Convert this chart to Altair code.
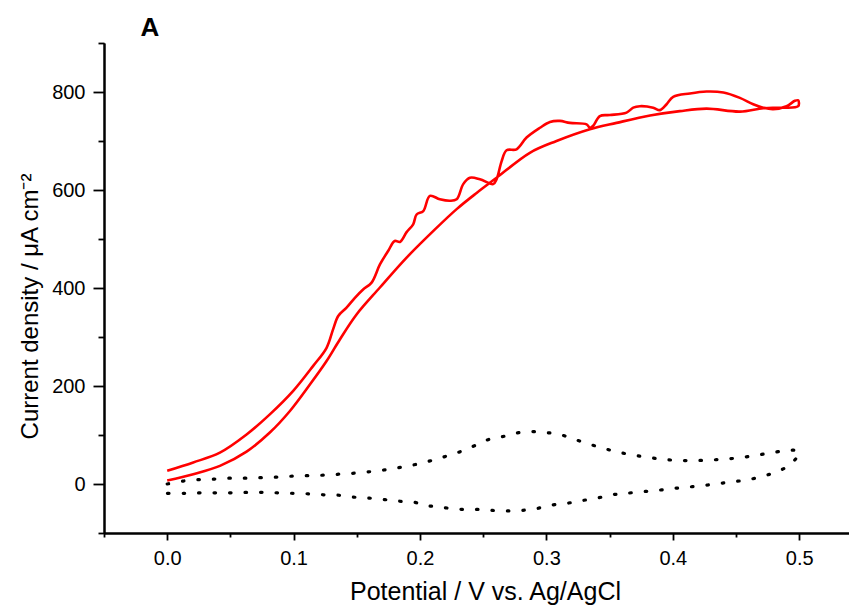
import altair as alt
import pandas as pd

# Red curve: smooth branch (0 -> 0.5 V) then noisy branch (0.5 -> 0 V)
fwd_x = [0.0, 0.0206, 0.0417, 0.0628, 0.0812, 0.0971, 0.1129, 0.1261, 0.1366, 0.1498,
         0.1683, 0.1894, 0.2104, 0.229, 0.2448, 0.2606, 0.2869, 0.308, 0.3344, 0.3555,
         0.382, 0.4056, 0.4267, 0.4531, 0.4715, 0.4847, 0.4992]
fwd_y = [7, 20, 37, 66, 105, 149, 203, 251, 295, 346, 401, 462, 516, 561, 594, 625, 676,
         700, 724, 737, 752, 761, 766, 760, 767, 768, 771]
rev_x = [0.4992, 0.4966, 0.490, 0.4794, 0.4715, 0.4636, 0.4531, 0.440, 0.4267, 0.4135,
         0.4003, 0.3951, 0.3898, 0.3845, 0.374, 0.3687, 0.3634, 0.3502, 0.3423, 0.337,
         0.3344, 0.3318, 0.3186, 0.3107, 0.3028, 0.2949, 0.2843, 0.2764, 0.2685, 0.2646,
         0.2606, 0.2579, 0.2474, 0.2395, 0.2342, 0.229, 0.2237, 0.2157, 0.2078, 0.2026,
         0.1973, 0.1946, 0.1894, 0.1841, 0.180, 0.1749, 0.1683, 0.1617, 0.155, 0.1485,
         0.1419, 0.1353, 0.1313, 0.1261, 0.1155, 0.0997, 0.0812, 0.0628, 0.0417, 0.0206,
         0.0]
rev_y = [783, 782, 771, 765, 768, 775, 788, 799, 801, 797, 790, 775, 763, 768, 771, 768,
         758, 753, 751, 731, 727, 734, 737, 741, 739, 727, 707, 683, 681, 659, 622, 612,
         622, 625, 612, 581, 578, 581, 588, 557, 550, 530, 514, 494, 496, 476, 448, 411,
         397, 380, 360, 343, 316, 278, 241, 190, 142, 101, 64, 44, 27]

# Dotted curve: upper branch (0 -> 0.5 V) then lower branch (0.5 -> 0 V)
dot_fwd_x = [0.0, 0.0127, 0.0253, 0.0369, 0.0496, 0.062, 0.0744, 0.0866, 0.0992, 0.1113,
             0.1234, 0.1358, 0.1479, 0.1601, 0.1725, 0.1847, 0.1968, 0.2092, 0.221, 0.2329,
             0.244, 0.2545, 0.2658, 0.2764, 0.2883, 0.2996, 0.3107, 0.3212, 0.3331, 0.3449,
             0.3568, 0.3687, 0.3811, 0.3932, 0.4056, 0.4177, 0.4299, 0.442, 0.4544, 0.4668,
             0.479, 0.4913, 0.5]
dot_fwd_y = [0, 6, 9, 10, 12, 12, 13, 14, 16, 17, 18, 20, 22, 25, 29, 34, 40, 48, 57, 67,
             79, 91, 97, 104, 107, 105, 101, 92, 82, 73, 65, 59, 54, 50, 48, 48, 49, 51,
             54, 59, 64, 69, 66]
dot_rev_x = [0.4932, 0.4821, 0.4703, 0.4576, 0.4457, 0.4333, 0.4214, 0.4088, 0.3972, 0.3845,
             0.3732, 0.3608, 0.3516, 0.3397, 0.3278, 0.3172, 0.3067, 0.3002, 0.2891, 0.2782,
             0.268, 0.2579, 0.2474, 0.2355, 0.2244, 0.2131, 0.2047, 0.1952, 0.1831, 0.1725,
             0.1604, 0.1485, 0.1361, 0.1237, 0.1115, 0.0997, 0.0876, 0.0755, 0.0633, 0.0512,
             0.0385, 0.0264, 0.0142, 0.0]
dot_rev_y = [40, 25, 15, 8, 4, 0, -4, -7, -10, -14, -16, -20, -22, -29, -34, -39, -42, -45,
             -52, -54, -55, -54, -52, -52, -50, -46, -44, -37, -35, -32, -29, -27, -23, -22,
             -20, -19, -18, -17, -17, -18, -18, -18, -19, -19]

x_major = [0.0, 0.1, 0.2, 0.3, 0.4, 0.5]
x_minor = [-0.05, 0.05, 0.15, 0.25, 0.35, 0.45]
y_major = [0, 200, 400, 600, 800]
y_minor = [-100, 100, 300, 500, 700, 900]
panel_label = ["A"]

red_df = pd.DataFrame({"x": fwd_x + rev_x, "y": fwd_y + rev_y})
red_df["i"] = range(len(red_df))
dot_df = pd.DataFrame({"x": dot_fwd_x + dot_rev_x, "y": dot_fwd_y + dot_rev_y})
dot_df["i"] = range(len(dot_df))
label_df = pd.DataFrame({"t": panel_label})

FONT = "Liberation Sans"
xscale = alt.Scale(domain=[-0.05, 0.5394], nice=False, zero=False)
yscale = alt.Scale(domain=[-100, 900], nice=False, zero=False)

red = alt.Chart(red_df).mark_line(color="#ff0000", strokeWidth=2.6,
                                  interpolate="catmull-rom").encode(
    x=alt.X("x:Q", scale=xscale, axis=alt.Axis(
        orient="bottom", values=x_major, format=".1f", tickSize=7, tickWidth=1.8,
        domainWidth=2, labelFontSize=20, labelPadding=8,
        title="Potential / V vs. Ag/AgCl", titleFontSize=25, titleFontWeight="normal",
        titleX=381, titleY=66, titleBaseline="alphabetic", titleAlign="center")),
    y=alt.Y("y:Q", scale=yscale, axis=alt.Axis(
        orient="left", values=y_major, format="d", tickSize=11, tickWidth=1.8,
        domainWidth=2, labelFontSize=20, labelPadding=8,
        title="Current density / μA cm⁻²", titleFontSize=24, titleFontWeight="normal",
        titleAngle=-90, titleX=-67, titleY=263, titleBaseline="alphabetic",
        titleAlign="center")),
    order="i:Q",
)

dots = alt.Chart(dot_df).mark_line(color="black", strokeWidth=3.2, strokeDash=[1.5, 14],
                                   strokeCap="round", interpolate="catmull-rom").encode(
    x=alt.X("x:Q", scale=xscale, axis=alt.Axis(
        orient="bottom", values=x_minor, labels=False, tickSize=4, tickWidth=1.8,
        domainWidth=2, title=None)),
    y=alt.Y("y:Q", scale=yscale, axis=alt.Axis(
        orient="left", values=y_minor, labels=False, tickSize=6, tickWidth=1.8,
        domainWidth=2, title=None)),
    order="i:Q",
)

label = alt.Chart(label_df).mark_text(
    font=FONT, fontSize=26, fontWeight="bold", color="black",
    align="center", baseline="alphabetic",
).encode(text="t:N", x=alt.value(46), y=alt.value(-7))

chart = alt.layer(red, dots, label).resolve_axis(x="independent", y="independent").properties(
    width=745, height=490,
    autosize=alt.AutoSizeParams(type="none"),
    padding={"left": 96, "top": 35, "right": 0, "bottom": 72},
).configure_view(stroke=None).configure_axis(
    labelFont=FONT, titleFont=FONT, domainColor="black", tickColor="black",
    labelColor="black", titleColor="black", grid=False,
)

chart.save("out.html", embed_options={"renderer": "svg", "actions": False})
